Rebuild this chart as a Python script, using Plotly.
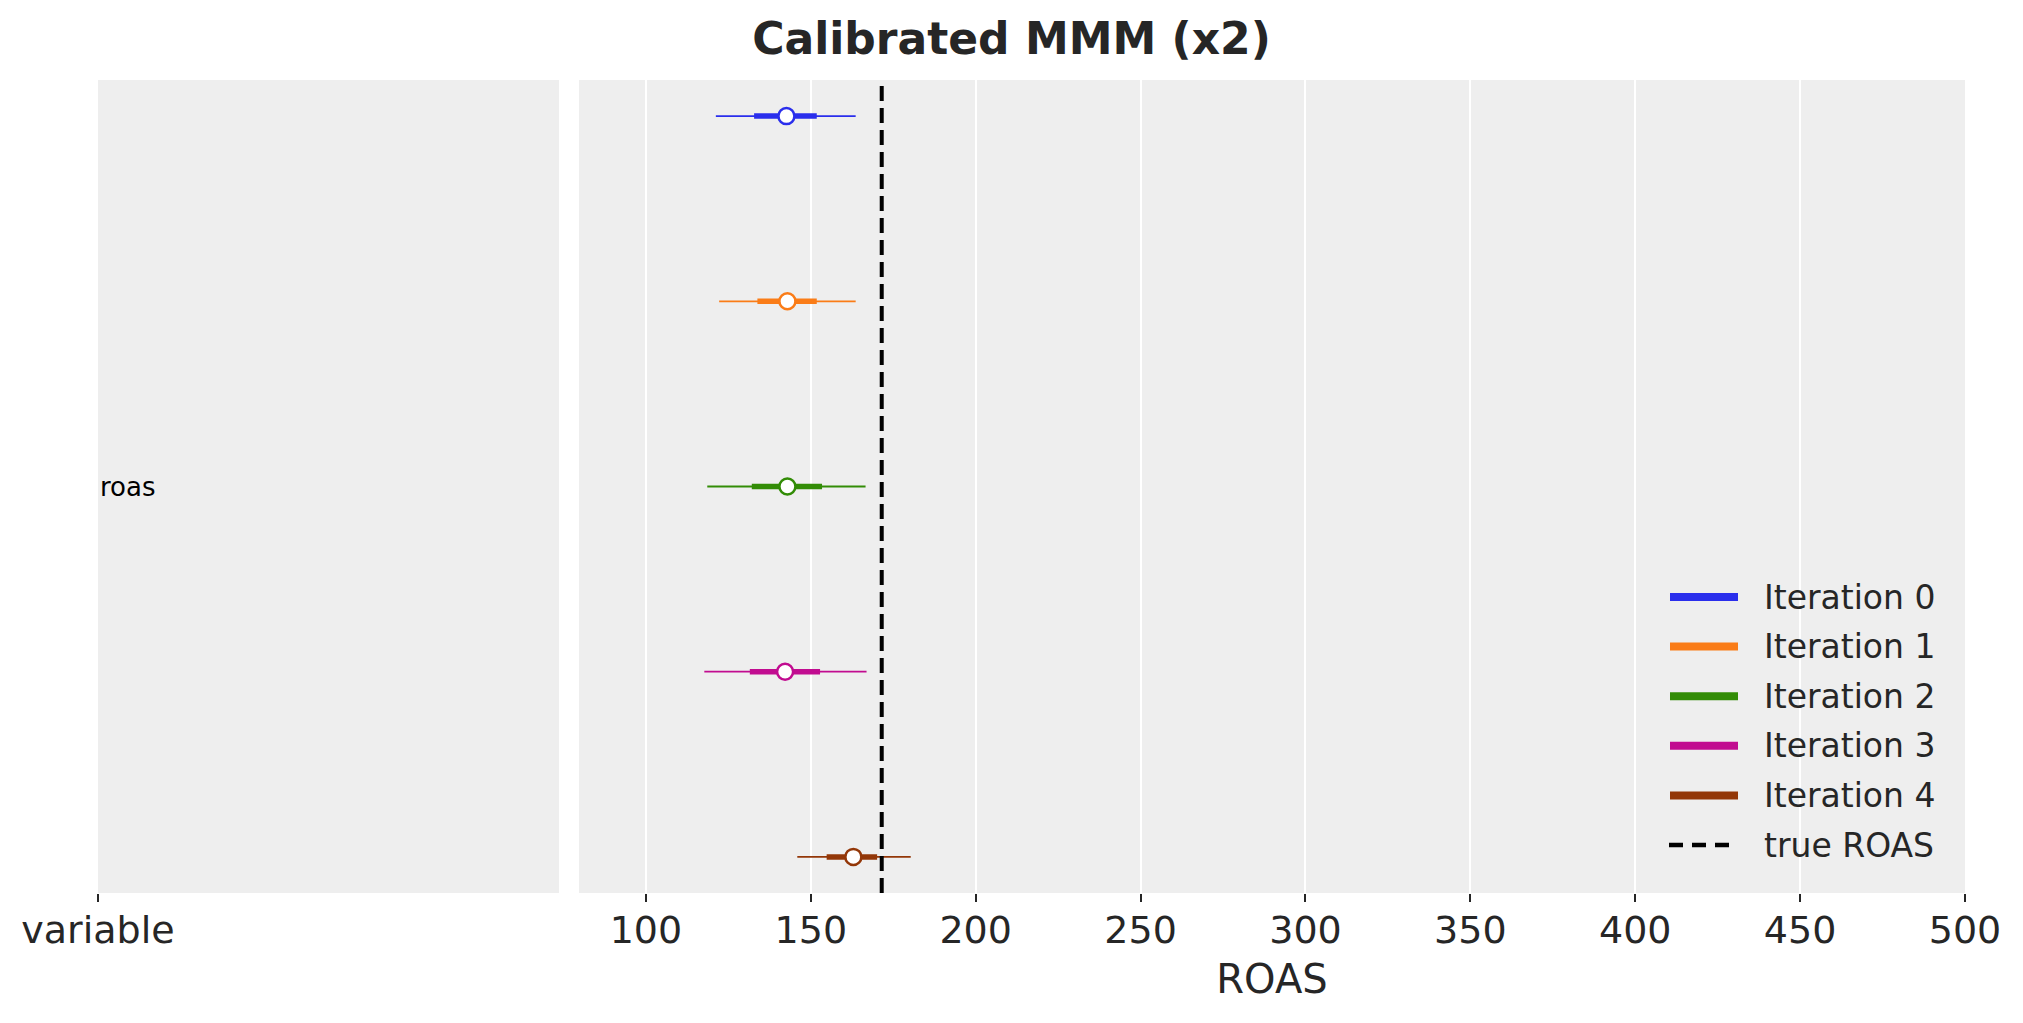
import plotly.graph_objects as go

iterations = ["Iteration 0", "Iteration 1", "Iteration 2", "Iteration 3", "Iteration 4"]
colors = ["#2a2eec", "#fa7c17", "#328c06", "#c10c90", "#933708"]
median = [142.6, 142.9, 142.9, 142.2, 162.9]
hdi_low = [121.2, 122.2, 118.6, 117.7, 145.9]
hdi_high = [163.6, 163.6, 166.6, 166.9, 180.3]
iqr_low = [132.8, 133.8, 132.1, 131.5, 154.8]
iqr_high = [151.8, 151.8, 153.4, 152.8, 170.1]
true_roas = 171.5
x_ticks = [100, 150, 200, 250, 300, 350, 400, 450, 500]

# page body has an 8px margin, so the figure is a bit smaller than the window
OFF = 8
W, H = 2023 - 2 * OFF, 1023 - 2 * OFF
txt = "#262626"
font = "DejaVu Sans"


def px(x):
    return (x - OFF) / W


def py(y):
    return 1 - (y - OFF) / H


fig = go.Figure()

for i, name in enumerate(iterations):
    c = colors[i]
    fig.add_trace(go.Scatter(x=[hdi_low[i], hdi_high[i]], y=[i, i], mode="lines",
                             line=dict(color=c, width=1.8), xaxis="x2", yaxis="y2",
                             showlegend=False, hoverinfo="skip"))
    fig.add_trace(go.Scatter(x=[iqr_low[i], iqr_high[i]], y=[i, i], mode="lines",
                             line=dict(color=c, width=5.5), xaxis="x2", yaxis="y2",
                             showlegend=False, hoverinfo="skip"))
    fig.add_trace(go.Scatter(x=[median[i]], y=[i], mode="markers",
                             marker=dict(color="white", size=16, line=dict(color=c, width=2.5)),
                             xaxis="x2", yaxis="y2", showlegend=False))

dash = "15px,7px"
fig.add_shape(type="line", xref="x2", yref="y2 domain", x0=true_roas, x1=true_roas,
              y0=0, y1=1, line=dict(color="black", width=4, dash=dash))

# legend drawn by hand (matplotlib-style long handles)
leg_labels = iterations + ["true ROAS"]
leg_y0, leg_step = 597, 49.6
for k, lab in enumerate(leg_labels):
    yy = py(leg_y0 + k * leg_step)
    if k < len(iterations):
        fig.add_shape(type="line", xref="paper", yref="paper", x0=px(1670), x1=px(1738),
                      y0=yy, y1=yy, line=dict(color=colors[k], width=8))
    else:
        fig.add_shape(type="line", xref="paper", yref="paper", x0=px(1669), x1=px(1731),
                      y0=yy, y1=yy, line=dict(color="black", width=4.5, dash="14px,9px"))
    fig.add_annotation(text=lab, xref="paper", yref="paper", x=px(1762), y=yy,
                       xanchor="left", yanchor="middle", showarrow=False,
                       font=dict(size=33, color=txt, family=font))

fig.add_annotation(text="roas", xref="x domain", yref="y", x=0, y=2, xanchor="left",
                   yanchor="middle", showarrow=False, font=dict(size=26, color="black", family=font))

ydom = [py(893), py(80)]
yrange = [4.195, -0.195]
fig.update_layout(
    width=W, height=H,
    margin=dict(l=0, r=0, t=0, b=0, pad=0),
    paper_bgcolor="white", plot_bgcolor="#eeeeee",
    font=dict(family=font, color=txt, size=38),
    showlegend=False,
    title=dict(text="<b>Calibrated MMM (x2)</b>", x=0.5, xanchor="center", y=py(39),
               yanchor="middle", automargin=False,
               font=dict(size=44, color=txt, family=font)),
    xaxis=dict(domain=[px(98), px(559)], range=[0, 1], tickvals=[0], ticktext=["variable"],
               showgrid=False, zeroline=False, ticks="outside", ticklen=8, tickwidth=2,
               tickcolor=txt, tickfont=dict(size=38), showline=False, automargin=False,
               ticklabelstandoff=-5),
    yaxis=dict(domain=ydom, range=yrange, visible=False, automargin=False),
    xaxis2=dict(domain=[px(579), px(1965)], range=[79.7, 500], tickvals=x_ticks, anchor="y2",
                showgrid=True, gridcolor="white", gridwidth=2, zeroline=False,
                ticks="outside", ticklen=8, tickwidth=2, tickcolor=txt,
                tickfont=dict(size=38), showline=False, automargin=False,
                ticklabelstandoff=-5,
                title=dict(text="ROAS", font=dict(size=40), standoff=14)),
    yaxis2=dict(domain=ydom, range=yrange, visible=False, anchor="x2", automargin=False),
)

fig.write_html("out.html")
